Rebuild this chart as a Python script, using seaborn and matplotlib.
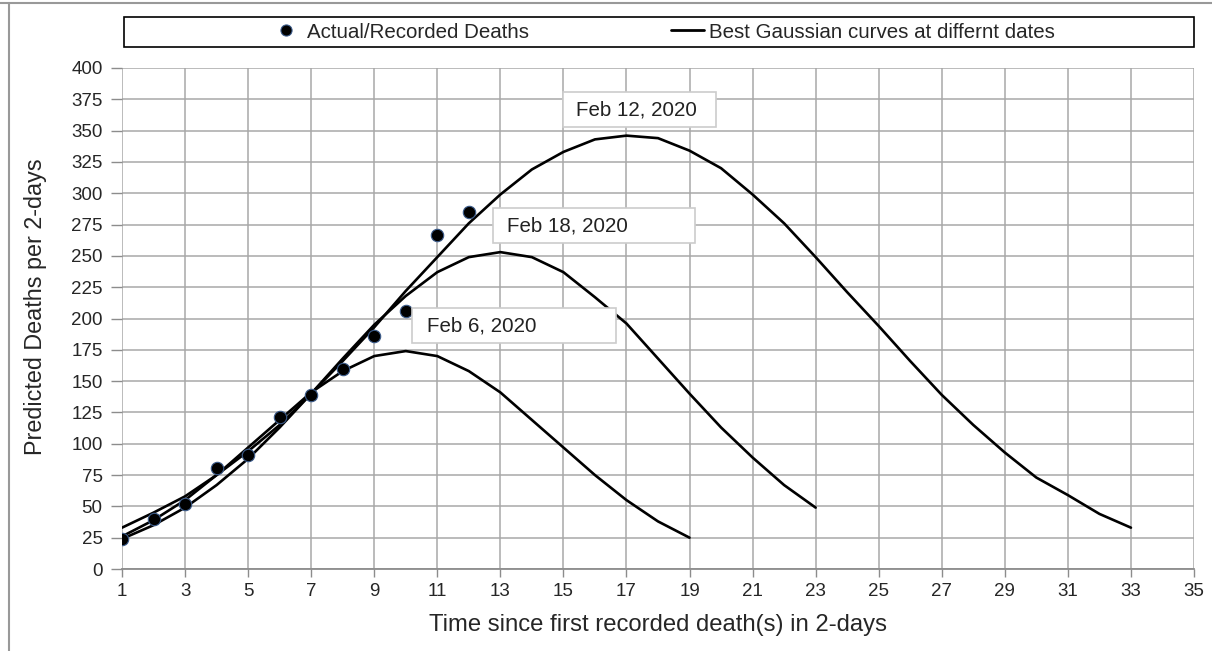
import numpy as np
import pandas as pd
import matplotlib
matplotlib.use("Agg")
import matplotlib.pyplot as plt
from matplotlib.lines import Line2D
from matplotlib.patches import Rectangle
import seaborn as sns

# Datos
dias_obs = [1, 2, 3, 4, 5, 6, 7, 8, 9, 10, 11, 12]
muertes_obs = [24, 40, 52, 81, 91, 121, 139, 160, 186, 206, 267, 285]

dias_feb6 = list(range(1, 20))
curva_feb6 = [26, 39, 55, 75, 97, 119, 141, 158, 170, 174, 170, 158, 141, 119, 97, 75, 55, 38, 25]

dias_feb18 = list(range(1, 24))
curva_feb18 = [24, 35, 49, 67, 88, 113, 140, 168, 195, 218, 237, 249, 253, 249, 237, 217,
               196, 168, 140, 113, 89, 67, 49]

dias_feb12 = list(range(1, 34))
curva_feb12 = [33, 45, 58, 75, 94, 115, 140, 166, 193, 222, 249, 276, 299, 319, 333, 343, 346,
               344, 334, 320, 299, 276, 249, 221, 194, 166, 139, 115, 93, 73, 59, 44, 33]

etiquetas = ["Feb 12, 2020", "Feb 18, 2020", "Feb 6, 2020"]
x_ticks = list(range(1, 36, 2))
y_ticks = list(range(0, 401, 25))

sns.set_style("white")
plt.rcParams["font.family"] = ["Liberation Sans", "DejaVu Sans"]

fig = plt.figure(figsize=(12.12, 6.51), dpi=100)
ax = fig.add_axes([122 / 1212, 1 - 569 / 651, (1194 - 122) / 1212, (569 - 68) / 651])

color_grid = "#a8a8a8"
ax.set_xlim(1, 35)
ax.set_ylim(0, 400)
ax.set_xticks(x_ticks)
ax.set_yticks(y_ticks)
ax.grid(True, color=color_grid, linewidth=1.1)
ax.set_axisbelow(True)
for s in ["top", "right", "left"]:
    ax.spines[s].set_visible(False)
ax.spines["bottom"].set_color("#8c8c8c")
ax.spines["bottom"].set_linewidth(1.3)
ax.tick_params(axis="both", which="major", direction="out", length=6, width=1.0,
               color="#8c8c8c", labelsize=13.5, pad=4, bottom=True, left=True)
ax.tick_params(axis="y", length=8, pad=6)

# Curvas gaussianas
for xs, ys in [(dias_feb6, curva_feb6), (dias_feb18, curva_feb18), (dias_feb12, curva_feb12)]:
    sns.lineplot(x=xs, y=ys, ax=ax, color="black", linewidth=1.9, zorder=3)

# Datos reales
sns.scatterplot(x=dias_obs, y=muertes_obs, ax=ax, color="black", s=80,
                edgecolor="#3b5b8a", linewidth=0.8, zorder=4)

# Cajas de fecha
cajas = [(14.99, 352.9, 4.85, 27.9, 15.40),
         (12.77, 260.3, 6.40, 27.9, 13.21),
         (10.20, 180.4, 6.47, 27.9, 10.67)]
for (x0, y0, w, h, xt), txt in zip(cajas, etiquetas):
    ax.add_patch(Rectangle((x0, y0), w, h, facecolor="white", edgecolor="#cccccc",
                           linewidth=1.2, zorder=5))
    ax.text(xt, y0 + h / 2, txt, fontsize=14.8, va="center", ha="left", color="#222222", zorder=6)

ax.set_xlabel("Time since first recorded death(s) in 2-days", fontsize=17.2, labelpad=10)
ax.set_ylabel("Predicted Deaths per 2-days", fontsize=16.8)
ax.yaxis.set_label_coords(-0.07, 0.523)

# Leyenda en caja superior
fig.add_artist(Rectangle((124 / 1212, 1 - 47 / 651), (1194 - 124) / 1212, 30 / 651,
                         transform=fig.transFigure, facecolor="white", edgecolor="black",
                         linewidth=1.2))
handles = [Line2D([], [], marker="o", linestyle="none", color="black", markersize=8,
                  markeredgecolor="#3b5b8a", markeredgewidth=0.8),
           Line2D([], [], color="black", linewidth=2)]
fig.legend(handles, ["Actual/Recorded Deaths", "Best Gaussian curves at differnt dates"],
           loc="center", bbox_to_anchor=(662 / 1212, 1 - 32 / 651), ncol=2, frameon=False,
           fontsize=14.8, handlelength=1.6, handletextpad=0.25, columnspacing=6.9)

# Marco exterior
fig.add_artist(Line2D([0, 1], [1 - 3 / 651, 1 - 3 / 651], transform=fig.transFigure,
                      color="#999999", linewidth=1.5))
fig.add_artist(Line2D([9 / 1212, 9 / 1212], [0, 1 - 3 / 651], transform=fig.transFigure,
                      color="#999999", linewidth=1.5))

fig.savefig("out.png", dpi=100)
